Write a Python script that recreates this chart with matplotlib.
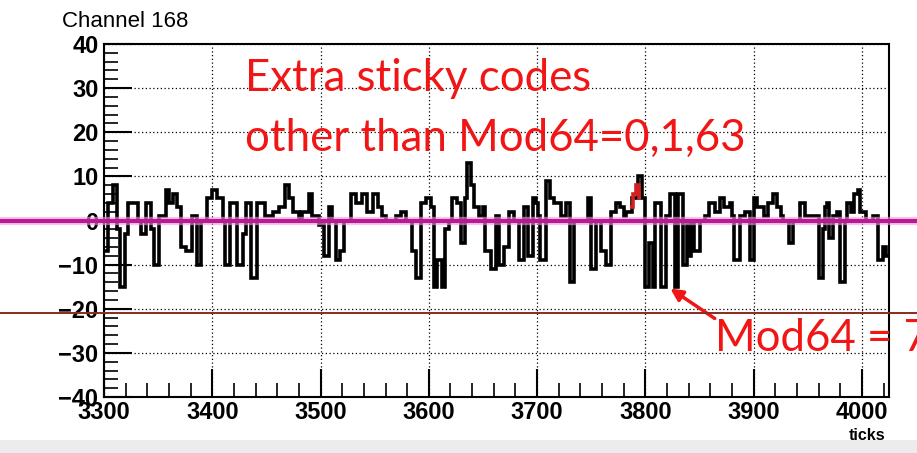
import numpy as np
import matplotlib
matplotlib.use("Agg")
import matplotlib.pyplot as plt
from matplotlib.ticker import MultipleLocator

# Waveform: each value holds from its edge to the next edge
seg_edges = [3300, 3304, 3308, 3312, 3315, 3319, 3322, 3331, 3334, 3339, 3343, 3346,
             3351, 3357, 3360, 3364, 3367, 3371, 3376, 3381, 3386, 3390, 3395, 3400,
             3404, 3410, 3412, 3416, 3423, 3428, 3431, 3436, 3441, 3449, 3456, 3462,
             3467, 3471, 3475, 3480, 3483, 3489, 3492, 3499, 3503, 3508, 3511, 3514,
             3518, 3522, 3528, 3533, 3538, 3543, 3548, 3553, 3557, 3560, 3570, 3574,
             3579, 3584, 3588, 3593, 3597, 3602, 3605, 3608, 3612, 3615, 3619, 3621,
             3626, 3630, 3633, 3635, 3639, 3642, 3646, 3650, 3652, 3657, 3662, 3665,
             3669, 3674, 3679, 3683, 3688, 3692, 3696, 3699, 3701, 3703, 3708, 3712,
             3716, 3722, 3727, 3730, 3734, 3747, 3750, 3754, 3759, 3764, 3768, 3773,
             3777, 3780, 3782, 3788, 3793, 3797, 3800, 3803, 3807, 3809, 3814, 3819,
             3823, 3827, 3830, 3835, 3838, 3840, 3842, 3845, 3850, 3855, 3859, 3864,
             3869, 3873, 3878, 3880, 3882, 3887, 3892, 3897, 3900, 3903, 3910, 3913,
             3918, 3922, 3925, 3927, 3933, 3936, 3943, 3947, 3960, 3964, 3966, 3968,
             3970, 3973, 3977, 3980, 3984, 3986, 3990, 3993, 3996, 3998, 4004, 4010,
             4015, 4019, 4022, 4024]
seg_values = [-7, 4, 8, -2, -15, -3, 4, 0, -3, 4, -2, -10,
              1, 7, 4, 6, 3, -6, -7, 1, -10, 0, 5, 7,
              5, 0, -10, 4, -10, -3, 4, -13, 4, 1, 2, 3,
              8, 5, 2, 0, 2, 6, 1, -1, -8, 3, 0, -9,
              -7, 0, 6, 4, 6, 2, 6, 3, 1, 0, 1, 2,
              0, -7, -13, 4, 5, 3, -15, -9, -15, -2, 0, 5,
              4, -5, 5, 13, 8, 3, 1, 3, -7, -11, 1, -10,
              -6, 2, 0, -9, 3, -8, 5, 4, 1, -9, 9, 5,
              4, 1, 4, -14, 0, 5, -11, 0, -7, -10, 2, 4,
              3, 1, 2, 5, 10, 5, -15, -5, -15, 4, -15, 1,
              6, -15, 6, -10, -1, -8, 0, -7, 0, 1, 4, 2,
              5, 3, 4, 1, -9, 1, 2, -9, 5, 3, 1, 4,
              6, 3, 1, 0, -5, 0, 4, 1, -13, -2, 3, 4,
              -4, 1, 2, -14, 0, 4, 2, 6, 7, 2, 0, 1,
              -9, -6, -8]

# flagged sticky-code bins (red overlay)
red_edges = [3786, 3789, 3791, 3794, 3796]
red_values = [3, 6, 8, 5]

baseline = 0
threshold = -21

fig = plt.figure(figsize=(9.17, 4.53), dpi=100)
fig.patch.set_facecolor("white")
ax = fig.add_axes([104 / 917, 1 - 397 / 453, 785 / 917, 353 / 453])

# grey strip at the very bottom of the slide
fig.patches.append(plt.Rectangle((0, 0), 1, 13 / 453, transform=fig.transFigure,
                                 facecolor="#ececec", edgecolor="none", zorder=0))

ax.set_xlim(3300, 4025)
ax.set_ylim(-40, 40)

ax.grid(True, which="major", linestyle=(0, (1, 2)), color="black", linewidth=0.9)
ax.set_axisbelow(True)

ax.stairs(seg_values, seg_edges, baseline=None, color="black", linewidth=2.6, zorder=3)
ax.stairs(red_values, red_edges, baseline=None, color="#d42020", linewidth=2.6, zorder=4)

# lines drawn across the whole slide
ax.axhline(baseline, xmin=-0.14, xmax=1.04, clip_on=False, color="#f0a0d8",
           linewidth=6, alpha=0.6, zorder=4)
ax.axhline(baseline, xmin=-0.14, xmax=1.04, clip_on=False, color="#b81a95",
           linewidth=3, zorder=5)
ax.axhline(threshold, xmin=-0.14, xmax=1.04, clip_on=False, color="#8b2a20",
           linewidth=1.4, zorder=5)

ax.xaxis.set_major_locator(MultipleLocator(100))
ax.xaxis.set_minor_locator(MultipleLocator(20))
ax.yaxis.set_major_locator(MultipleLocator(10))
ax.yaxis.set_minor_locator(MultipleLocator(2))
ax.tick_params(which="major", direction="in", length=20, width=1.5,
               top=False, right=False, labelsize=17, pad=4)
ax.tick_params(axis="x", which="major", pad=3)
ax.tick_params(which="minor", direction="in", length=10, width=1.2,
               top=False, right=False)
for lab in ax.get_xticklabels() + ax.get_yticklabels():
    lab.set_fontweight("bold")
    lab.set_family("Liberation Sans")
for sp in ax.spines.values():
    sp.set_linewidth(1.5)

fig.text(62 / 917, 1 - 27 / 453, "Channel 168", fontsize=16, family="Liberation Sans")
fig.text(885 / 917, 1 - 440 / 453, "ticks", fontsize=11.5, fontweight="bold",
         family="Liberation Sans", ha="right")

red = "#f21515"
fig.text(245 / 917, 1 - 91 / 453, "Extra sticky codes", fontsize=31.5, color=red, family="Lato")
fig.text(245 / 917, 1 - 151 / 453, "other than Mod64=0,1,63", fontsize=31.5, color=red,
         family="Lato")
fig.text(715 / 917, 1 - 351 / 453, "Mod64 = 7", fontsize=31.5, color=red, family="Lato")

ax.annotate("", xy=(668 / 917, 1 - 287 / 453), xytext=(717 / 917, 1 - 320 / 453),
            xycoords="figure fraction", textcoords="figure fraction",
            arrowprops=dict(arrowstyle="-|>", color=red, lw=2.5, mutation_scale=18))

fig.savefig("out.png", dpi=100)
